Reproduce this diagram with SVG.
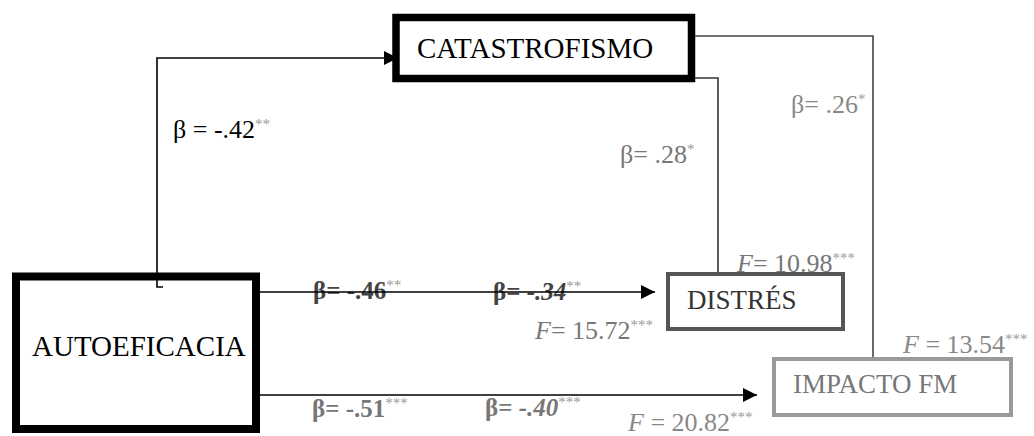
<svg xmlns="http://www.w3.org/2000/svg" width="1034" height="436" viewBox="0 0 1034 436">
<style>
text{font-family:"Liberation Serif","Times New Roman",serif;}
.node{font-size:29px;}
.lab{font-size:26px;}
.b{font-weight:bold;font-size:25px;}
.st{font-size:15px;fill:#999;}
.conn{fill:none;stroke-width:1.6;}
</style>
<defs>
<marker id="ah" markerUnits="userSpaceOnUse" markerWidth="14" markerHeight="14" refX="14" refY="7" orient="auto">
<path d="M0,0 L14,7 L0,14 z" fill="#000"/>
</marker>
</defs>
<rect width="1034" height="436" fill="#fff"/>
<g id="labels">
<text class="lab" x="173" y="138" fill="#000">β = -.42<tspan class="st" dy="-9" fill="#444">**</tspan></text>
<text class="lab" x="620" y="163" fill="#777">β= .28<tspan class="st" dy="-9">*</tspan></text>
<text class="lab" x="791" y="113" fill="#888">β= .26<tspan class="st" dy="-9">*</tspan></text>
<text class="b" x="313" y="299" fill="#444">β= -.46<tspan class="st" dy="-9" font-weight="normal">**</tspan></text>
<text class="b" x="493" y="300" fill="#444">β= <tspan font-style="italic">-.34</tspan><tspan class="st" dy="-9" font-weight="normal">**</tspan></text>
<text class="b" x="312" y="417" fill="#777">β= -.51<tspan class="st" dy="-9" font-weight="normal">***</tspan></text>
<text class="b" x="485" y="416" fill="#777">β= <tspan font-style="italic">-.40</tspan><tspan class="st" dy="-9" font-weight="normal">***</tspan></text>
<text class="lab" x="737" y="272" fill="#777"><tspan font-style="italic">F</tspan>= 10.98<tspan class="st" dy="-9">***</tspan></text>
<text class="lab" x="535" y="339" fill="#777"><tspan font-style="italic">F</tspan>= 15.72<tspan class="st" dy="-9">***</tspan></text>
<text class="lab" x="903" y="353" fill="#888"><tspan font-style="italic">F</tspan> = 13.54<tspan class="st" dy="-9">***</tspan></text>
<text class="lab" x="628" y="431" fill="#888"><tspan font-style="italic">F</tspan> = 20.82<tspan class="st" dy="-9">***</tspan></text>
</g>
<g id="node-catastrofismo">
<rect x="396" y="17.5" width="295.5" height="61" fill="#fff" stroke="#000" stroke-width="7.5"/>
<text class="node" x="417" y="58" fill="#000">CATASTROFISMO</text>
</g>
<g id="node-autoeficacia">
<rect x="16" y="276.5" width="240" height="152.5" fill="#fff" stroke="#000" stroke-width="8"/>
<text class="node" x="32" y="356" fill="#000">AUTOEFICACIA</text>
</g>
<g id="node-distres">
<rect x="668" y="274" width="175" height="55" fill="#fff" stroke="#555" stroke-width="4"/>
<text x="687" y="309" font-size="27" fill="#333">DISTRÉS</text>
</g>
<g id="node-impacto">
<rect x="774" y="359" width="237" height="56" fill="#fff" stroke="#9a9a9a" stroke-width="4"/>
<text x="793" y="393" font-size="27" fill="#777">IMPACTO FM</text>
</g>
<g id="connectors">
<polyline class="conn" stroke="#000" points="163,287 157,287 157,58 398,58" marker-end="url(#ah)"/>
<line class="conn" stroke="#000" x1="260" y1="292" x2="655" y2="292" marker-end="url(#ah)"/>
<line class="conn" stroke="#000" x1="260" y1="395" x2="757" y2="395" marker-end="url(#ah)"/>
<polyline class="conn" stroke="#333" points="695,78 718,78 718,272"/>
<polyline class="conn" stroke="#444" points="695,36 873,36 873,357"/>
</g>
</svg>
